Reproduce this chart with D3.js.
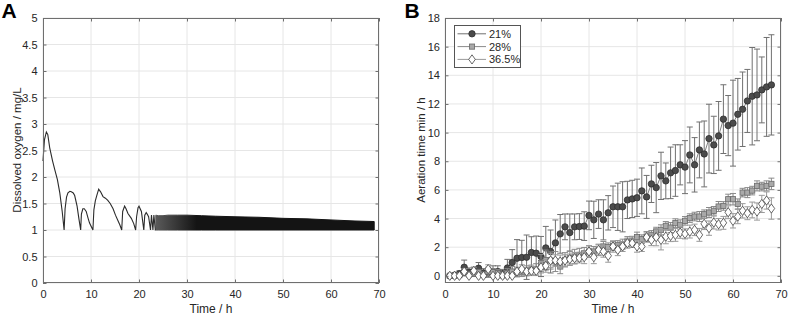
<!DOCTYPE html>
<html><head><meta charset="utf-8">
<script src="https://cdn.jsdelivr.net/npm/d3@7"></script>
<style>
body{margin:0;background:#fff}
svg{display:block;font-family:"Liberation Sans",Arial,Helvetica,sans-serif}
</style>
</head><body>
<svg id="c" width="789" height="315"></svg>
<script>
// ---------- Panel A data ----------
const doTime  = [0,0.3,0.7,1.0,1.4,2.0,2.45,3.0,3.5,4.0,4.4,4.6,4.9,5.2,5.6,5.9,6.3,6.6,7.1,7.5,7.85,8.0,8.3,8.6,9.0,9.4,9.7,10.4,10.6,10.9,11.2,11.6,12.0,12.5,13.0,13.5,14.0,14.6,15.1,15.6,16.0,16.4,16.6,17.0,17.3,17.7,18.4,18.9,19.3,19.5,19.8,20.0,20.5,21.0,21.2,21.5,21.7,22.0,22.4,22.6,22.9,23.1,23.4,23.5];
const doValue = [2.3,2.7,2.85,2.8,2.55,2.3,2.14,1.95,1.7,1.35,1.0,1.4,1.62,1.7,1.73,1.72,1.7,1.65,1.45,1.2,1.0,1.3,1.4,1.4,1.35,1.22,1.13,1.0,1.38,1.55,1.65,1.77,1.72,1.63,1.6,1.56,1.5,1.4,1.28,1.18,1.1,1.0,1.35,1.45,1.4,1.31,1.22,1.12,1.0,1.25,1.42,1.45,1.35,1.0,1.28,1.33,1.3,1.25,1.0,1.28,1.0,1.28,1.0,1.0];
// envelope of the fast oscillation (23.5 h onwards)
const bandTime  = [23.5,24,25,26,28,30,33,36,40,45,50,55,60,65,69];
const bandUpper = [1.28,1.27,1.27,1.28,1.28,1.28,1.27,1.26,1.25,1.24,1.22,1.21,1.19,1.17,1.16];
const bandLower = [1.0,1.0,1.0,1.0,1.0,1.0,1.0,1.0,1.0,1.0,1.0,1.0,1.0,1.0,1.0];
const xTicksA = [0,10,20,30,40,50,60,70];
const yTicksA = [0,0.5,1,1.5,2,2.5,3,3.5,4,4.5,5];

// ---------- Panel B data ----------
const timeB = [1,2,3,4,5,6,7,8,9,10,11,12,13,14,15,16,17,18,19,20,21,22,23,24,25,26,27,28,29,30,31,32,33,34,35,36,37,38,39,40,41,42,43,44,45,46,47,48,49,50,51,52,53,54,55,56,57,58,59,60,61,62,63,64,65,66,67,68];
const mean21 = [0,0.05,0.15,0.6,0.25,0.3,0.53,0.2,0.2,0.3,0.3,0.15,0.55,0.93,1.23,1.28,1.3,1.63,1.58,1.35,1.95,1.7,2.3,2.93,3.42,3.02,3.42,3.44,3.47,4.22,3.91,4.31,3.91,4.4,4.82,4.82,4.82,5.3,5.37,5.45,5.93,5.51,6.42,6.16,6.98,6.63,7.19,7.35,7.75,7.59,8.44,7.75,8.79,8.51,9.58,9.14,9.77,10.94,10.49,10.66,11.28,11.63,12.21,12.54,12.63,12.98,13.19,13.33];
const err21  = [0,0.1,0.2,0.5,0.3,0.3,0.4,0.3,0.3,0.4,0.4,0.3,0.6,0.9,1.3,1.2,1.55,1.1,1.2,1.4,1.5,1.5,1.6,1.35,0.9,1.3,0.9,0.9,1.0,1.0,1.3,1.0,1.4,1.2,1.45,1.65,1.75,1.3,1.3,1.3,1.6,1.5,1.3,1.75,1.65,1.25,1.8,1.8,1.4,1.85,1.95,1.9,1.95,2.3,2.4,2.0,2.4,2.4,2.1,3.0,2.5,2.6,2.2,3.4,3.2,2.3,3.45,3.5];
const mean28 = [0,0,0.05,0.2,0.1,0.15,0.25,0.1,0.3,0.25,0.2,0.1,0.2,0.3,0.3,0.25,0.35,0.4,0.45,0.89,1.1,1.07,1.0,0.65,1.12,1.23,1.35,1.47,1.58,1.7,1.7,1.81,2.05,2.0,2.09,2.16,2.21,2.39,2.46,2.7,2.56,2.74,2.86,3.09,3.21,3.49,3.37,3.68,3.56,3.84,4.03,4.14,4.14,4.3,4.42,4.54,4.84,4.88,5.35,5.35,5.02,5.81,5.81,5.95,6.28,6.23,6.28,6.42];
const err28  = [0,0.05,0.1,0.2,0.15,0.2,0.2,0.15,0.3,0.25,0.25,0.15,0.3,0.35,0.3,0.3,0.35,0.35,0.4,0.6,0.7,0.6,0.7,0.5,0.5,0.5,0.5,0.45,0.4,0.4,0.35,0.4,0.35,0.3,0.3,0.3,0.35,0.35,0.3,0.35,0.3,0.35,0.3,0.3,0.35,0.3,0.35,0.3,0.35,0.3,0.3,0.3,0.35,0.3,0.35,0.3,0.35,0.3,0.35,0.4,0.35,0.3,0.35,0.3,0.35,0.3,0.35,0.4];
const mean36 = [0,0,0,0.3,0,0.35,0,0,0.47,0,0,0,0,0,0.3,0.47,0.3,0.35,0.35,0.6,0.7,1.07,1.07,1.0,1.07,1.17,1.23,1.25,1.3,1.7,1.3,1.81,1.7,1.4,2.05,1.81,2.05,2.28,2.28,2.05,2.05,2.7,2.51,2.7,2.51,2.74,2.79,2.86,3.02,2.93,3.09,3.21,2.86,3.63,3.33,3.72,3.6,3.7,4.44,3.84,4.14,4.54,4.37,4.6,4.49,5.02,5.26,4.7];
const err36  = [0,0,0,0.2,0,0.25,0,0,0.3,0,0,0,0,0,0.25,0.3,0.25,0.3,0.3,0.4,0.45,0.5,0.4,0.45,0.4,0.35,0.4,0.35,0.45,0.4,0.45,0.35,0.4,0.45,0.4,0.4,0.35,0.35,0.3,0.4,0.35,0.35,0.4,0.6,0.7,0.5,0.4,0.45,0.4,0.35,0.45,0.4,0.45,0.4,0.5,0.45,0.4,0.45,0.45,0.5,0.5,0.5,0.45,0.55,0.6,0.6,0.6,0.75];
const seriesNames = ["21%","28%","36.5%"];
const xTicksB = [0,10,20,30,40,50,60,70];
const yTicksB = [0,2,4,6,8,10,12,14,16,18];

// ---------- helpers ----------
const svg = d3.select("#c");
const TXT = "#262626", BOX = "#6f6f6f", GRID = "#e6e6e6";

function frame(x, y, xt, yt){
  const [x0,x1] = x.range(), [y0,y1] = y.range();
  const g = svg.append("g");
  g.selectAll(".gx").data(xt).join("line")
    .attr("x1",d=>x(d)).attr("x2",d=>x(d)).attr("y1",y1).attr("y2",y0)
    .attr("stroke",GRID).attr("stroke-width",1);
  g.selectAll(".gy").data(yt).join("line")
    .attr("x1",x0).attr("x2",x1).attr("y1",d=>y(d)).attr("y2",d=>y(d))
    .attr("stroke",GRID).attr("stroke-width",1);
  return g;
}
function axesOn(x, y, xt, yt, ypad){
  const [x0,x1] = x.range(), [y0,y1] = y.range();
  const style = sel => {
    sel.select(".domain").remove();
    sel.selectAll(".tick line").attr("stroke",BOX);
    sel.selectAll("text").attr("fill",TXT).style("font-size","11px");
  };
  svg.append("g").attr("transform",`translate(0,${y0})`)
    .call(d3.axisBottom(x).tickValues(xt).tickFormat(d=>d).tickSize(-3.5).tickPadding(7.5)).call(style);
  svg.append("g").attr("transform",`translate(0,${y1})`)
    .call(d3.axisTop(x).tickValues(xt).tickFormat("").tickSize(-3.5)).call(style);
  svg.append("g").attr("transform",`translate(${x0},0)`)
    .call(d3.axisLeft(y).tickValues(yt).tickFormat(d=>d).tickSize(-3.5).tickPadding(ypad)).call(style);
  svg.append("g").attr("transform",`translate(${x1},0)`)
    .call(d3.axisRight(y).tickValues(yt).tickFormat("").tickSize(-3.5)).call(style);
  svg.append("rect").attr("x",x0+0.5).attr("y",y1+0.5).attr("width",x1-x0-1).attr("height",y0-y1-1)
    .attr("fill","none").attr("stroke",BOX).attr("stroke-width",1);
}

// ---------- Panel A ----------
const xA = d3.scaleLinear().domain([0,70]).range([43,379]);
const yA = d3.scaleLinear().domain([0,5]).range([283,18]);
frame(xA,yA,xTicksA,yTicksA);
const defs = svg.append("defs");
const grad = defs.append("linearGradient").attr("id","bandGrad")
  .attr("gradientUnits","userSpaceOnUse")
  .attr("x1",xA(23.5)).attr("x2",xA(32)).attr("y1",0).attr("y2",0);
grad.append("stop").attr("offset",0).attr("stop-color","#5a5a5a");
grad.append("stop").attr("offset",1).attr("stop-color","#141414");
const bandData = bandTime.map((t,i)=>({t,u:bandUpper[i],l:bandLower[i]}));
svg.append("path").datum(bandData)
  .attr("d", d3.area().x(d=>xA(d.t)).y0(d=>yA(d.l)).y1(d=>yA(d.u)))
  .attr("fill","url(#bandGrad)").attr("stroke","url(#bandGrad)").attr("stroke-width",1);
svg.append("path").datum(doTime.map((t,i)=>[t,doValue[i]]))
  .attr("d", d3.line().x(d=>xA(d[0])).y(d=>yA(d[1])))
  .attr("fill","none").attr("stroke","#2b2b2b").attr("stroke-width",1.1);
axesOn(xA,yA,xTicksA,yTicksA,5.5);
svg.append("text").attr("x",211).attr("y",312.5).attr("text-anchor","middle")
  .attr("fill",TXT).style("font-size","12px").text("Time / h");
svg.append("text").attr("transform","translate(20.5,150) rotate(-90)").attr("text-anchor","middle")
  .attr("fill",TXT).style("font-size","11.5px").text("Dissolved oxygen / mg/L");
svg.append("text").attr("x",1.5).attr("y",18.3).attr("fill","#000")
  .style("font-size","21px").style("font-weight","bold").text("A");

// ---------- Panel B ----------
const xB = d3.scaleLinear().domain([0,70]).range([445,781]);
const yB = d3.scaleLinear().domain([-0.5,18]).range([283,18]);
frame(xB,yB,xTicksB,yTicksB);

const specs = [
  {name:seriesNames[0], mean:mean21, err:err21, line:"#707070", shape:"circle", fill:"#4b4b4b", stroke:"#2e2e2e"},
  {name:seriesNames[1], mean:mean28, err:err28, line:"#8a8a8a", shape:"square", fill:"#a9a9a9", stroke:"#6a6a6a"},
  {name:seriesNames[2], mean:mean36, err:err36, line:"#9a9a9a", shape:"diamond", fill:"#ffffff", stroke:"#444444"}
];
function marker(sel, s){
  if(s.shape==="circle") sel.append("circle").attr("r",3.2);
  else if(s.shape==="square") sel.append("rect").attr("x",-2.6).attr("y",-2.6).attr("width",5.2).attr("height",5.2);
  else sel.append("path").attr("d","M0,-4.6L3.3,0L0,4.6L-3.3,0Z");
  sel.selectAll("*").attr("fill",s.fill).attr("stroke",s.stroke).attr("stroke-width",0.8);
}
specs.forEach(s=>{
  const g = svg.append("g");
  const pts = timeB.map((t,i)=>({t, m:s.mean[i], e:s.err[i]}));
  const eb = g.append("g").attr("stroke",s.line).attr("stroke-width",1);
  pts.filter(d=>d.e>0).forEach(d=>{
    const x = xB(d.t), ya = yB(d.m+d.e), yb = yB(d.m-d.e);
    eb.append("line").attr("x1",x).attr("x2",x).attr("y1",ya).attr("y2",yb);
    eb.append("line").attr("x1",x-3).attr("x2",x+3).attr("y1",ya).attr("y2",ya);
    eb.append("line").attr("x1",x-3).attr("x2",x+3).attr("y1",yb).attr("y2",yb);
  });
  g.append("path").datum(pts).attr("d",d3.line().x(d=>xB(d.t)).y(d=>yB(d.m)))
    .attr("fill","none").attr("stroke",s.line).attr("stroke-width",0.9);
  g.selectAll(".m").data(pts).join("g").attr("transform",d=>`translate(${xB(d.t)},${yB(d.m)})`)
    .each(function(){ marker(d3.select(this), s); });
});
axesOn(xB,yB,xTicksB,yTicksB,5);

// legend
const lg = svg.append("g");
lg.append("rect").attr("x",454.5).attr("y",25.5).attr("width",66).attr("height",42)
  .attr("fill","#fff").attr("stroke","#555").attr("stroke-width",1);
specs.forEach((s,i)=>{
  const yy = 33.8 + i*12.8;
  lg.append("line").attr("x1",457.5).attr("x2",486).attr("y1",yy).attr("y2",yy)
    .attr("stroke",s.line).attr("stroke-width",1);
  const m = lg.append("g").attr("transform",`translate(472,${yy})`);
  marker(m, s);
  lg.append("text").attr("x",489).attr("y",yy).attr("dy","0.36em").attr("fill",TXT)
    .style("font-size","11px").text(s.name);
});

svg.append("text").attr("x",613).attr("y",312.5).attr("text-anchor","middle")
  .attr("fill",TXT).style("font-size","12px").text("Time / h");
svg.append("text").attr("transform","translate(425,150) rotate(-90)").attr("text-anchor","middle")
  .attr("fill",TXT).style("font-size","11.5px").text("Aeration time min / h");
svg.append("text").attr("x",404.5).attr("y",18.3).attr("fill","#000")
  .style("font-size","21px").style("font-weight","bold").text("B");
</script>
</body></html>
